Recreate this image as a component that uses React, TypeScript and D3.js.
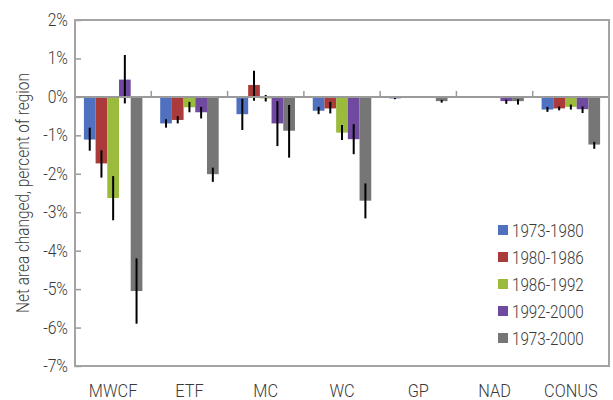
import React, { useEffect, useRef } from "react";
import * as d3 from "d3";

// regions on the x axis
const regions = ["MWCF", "ETF", "MC", "WC", "GP", "NAD", "CONUS"];
// periods, one bar each per region
const periods = ["1973-1980", "1980-1986", "1986-1992", "1992-2000", "1973-2000"];
const periodColors = ["#5071bf", "#ab3b3b", "#9bbb3d", "#7049a0", "#767676"];

// net change (percent) per period, in region order
const p7380 = [-1.11, -0.69, -0.45, -0.36, -0.04, -0.01, -0.33];
const p8086 = [-1.73, -0.6, 0.31, -0.3, -0.02, -0.01, -0.3];
const p8692 = [-2.63, -0.27, -0.04, -0.93, -0.02, -0.02, -0.26];
const p9200 = [0.45, -0.4, -0.69, -1.1, -0.01, -0.11, -0.32];
const p7300 = [-5.05, -2.01, -0.88, -2.7, -0.11, -0.11, -1.24];

// error bar ends (low, high) per period
const err7380 = [[-1.4, -0.8], [-0.8, -0.58], [-0.86, -0.05], [-0.45, -0.26], [-0.06, -0.02], [-0.02, 0], [-0.39, -0.26]];
const err8086 = [[-2.1, -1.39], [-0.69, -0.5], [-0.1, 0.68], [-0.43, -0.13], [-0.03, -0.01], [-0.02, 0], [-0.35, -0.25]];
const err8692 = [[-3.21, -2.06], [-0.4, -0.13], [-0.12, 0.05], [-1.12, -0.73], [-0.03, -0.01], [-0.03, -0.01], [-0.33, -0.2]];
const err9200 = [[-0.17, 1.09], [-0.56, -0.26], [-1.28, -0.11], [-1.49, -0.71], [-0.02, 0], [-0.18, -0.07], [-0.42, -0.25]];
const err7300 = [[-5.9, -4.2], [-2.21, -1.84], [-1.58, -0.21], [-3.16, -2.25], [-0.15, -0.08], [-0.2, -0.06], [-1.35, -1.17]];

const yTicks = [2, 1, 0, -1, -2, -3, -4, -5, -6, -7];

const values = [p7380, p8086, p8692, p9200, p7300];
const errors = [err7380, err8086, err8692, err9200, err7300];

const FONT = "Roboto, 'Liberation Sans', sans-serif";
const TEXT = "#3a3a3a";

export default function App() {
  const ref = useRef<SVGSVGElement>(null);

  useEffect(() => {
    const W = 613;
    const H = 400;
    const margin = { top: 20, right: 4, bottom: 34, left: 75 };
    const svg = d3.select(ref.current);
    svg.selectAll("*").remove();

    const x0 = d3.scaleBand().domain(regions).range([margin.left, W - margin.right]).padding(0);
    const x1 = d3.scaleBand().domain(periods).range([0, x0.bandwidth()]).paddingInner(0).paddingOuter(0.76);
    const y = d3.scaleLinear().domain([-7, 2]).range([H - margin.bottom, margin.top]);

    // narrow text: the original uses a condensed face
    const label = (
      x: number,
      yy: number,
      s: string,
      size: number,
      anchor: string,
      sx: number,
      rot = 0
    ) =>
      svg
        .append("text")
        .attr("transform", `translate(${x},${yy}) rotate(${rot}) scale(${sx},1)`)
        .attr("text-anchor", anchor)
        .attr("font-family", FONT)
        .attr("font-weight", 300)
        .attr("font-size", size)
        .attr("fill", TEXT)
        .text(s);

    // bars
    const group = svg.append("g");
    periods.forEach((p, si) => {
      group
        .selectAll(null)
        .data(regions)
        .enter()
        .append("rect")
        .attr("x", (r) => x0(r)! + x1(p)!)
        .attr("width", x1.bandwidth())
        .attr("y", (r, i) => y(Math.max(0, values[si][i])))
        .attr("height", (r, i) => Math.abs(y(values[si][i]) - y(0)))
        .attr("fill", periodColors[si]);
    });

    // zero axis with upward ticks at region boundaries
    const zero = svg.append("g").attr("transform", `translate(0,${y(0)})`);
    zero
      .append("line")
      .attr("x1", margin.left)
      .attr("x2", W - margin.right)
      .attr("stroke", "#9a9a9a")
      .attr("stroke-width", 2);
    zero
      .selectAll(null)
      .data(regions.slice(1))
      .enter()
      .append("line")
      .attr("x1", (r) => x0(r)!)
      .attr("x2", (r) => x0(r)!)
      .attr("y1", 0)
      .attr("y2", -6)
      .attr("stroke", "#9a9a9a")
      .attr("stroke-width", 1.5);

    // error bars
    periods.forEach((p, si) => {
      group
        .selectAll(null)
        .data(regions)
        .enter()
        .append("line")
        .attr("x1", (r) => x0(r)! + x1(p)! + x1.bandwidth() / 2)
        .attr("x2", (r) => x0(r)! + x1(p)! + x1.bandwidth() / 2)
        .attr("y1", (r, i) => y(errors[si][i][0]))
        .attr("y2", (r, i) => y(errors[si][i][1]))
        .attr("stroke", "#000")
        .attr("stroke-width", 2);
    });

    // y axis ticks, pointing into the plot
    const yAxis = svg
      .append("g")
      .attr("transform", `translate(${margin.left},0)`)
      .call(d3.axisLeft(y).tickValues(yTicks).tickSize(-6).tickFormat(() => "").tickSizeOuter(0));
    yAxis.select(".domain").remove();
    yAxis.selectAll(".tick line").attr("stroke", "#9a9a9a").attr("stroke-width", 1.5);
    yTicks.forEach((t) => label(68, y(t) + 6, `${t}%`, 17.5, "end", 0.9));

    // frame
    svg
      .append("rect")
      .attr("x", margin.left)
      .attr("y", margin.top)
      .attr("width", W - margin.right - margin.left)
      .attr("height", H - margin.bottom - margin.top)
      .attr("fill", "none")
      .attr("stroke", "#a3a3a3")
      .attr("stroke-width", 2);

    // category labels
    regions.forEach((r) => label(x0(r)! + x0.bandwidth() / 2, 397, r, 19, "middle", 0.86));

    // y title
    label(29, (y(2) + y(-7)) / 2, "Net area changed, percent of region", 17.5, "middle", 0.88, -90);

    // legend
    const lx = 498;
    const ly = 222;
    periods.forEach((p, i) => {
      svg
        .append("rect")
        .attr("x", lx)
        .attr("y", ly + i * 27 + 3)
        .attr("width", 10)
        .attr("height", 10)
        .attr("fill", periodColors[i]);
      label(lx + 14, ly + i * 27 + 14.5, p, 19, "start", 0.8);
    });
  }, []);

  return (
    <svg
      ref={ref}
      width={613}
      height={400}
      style={{ position: "absolute", left: 0, top: 0, background: "#fff" }}
    />
  );
}
